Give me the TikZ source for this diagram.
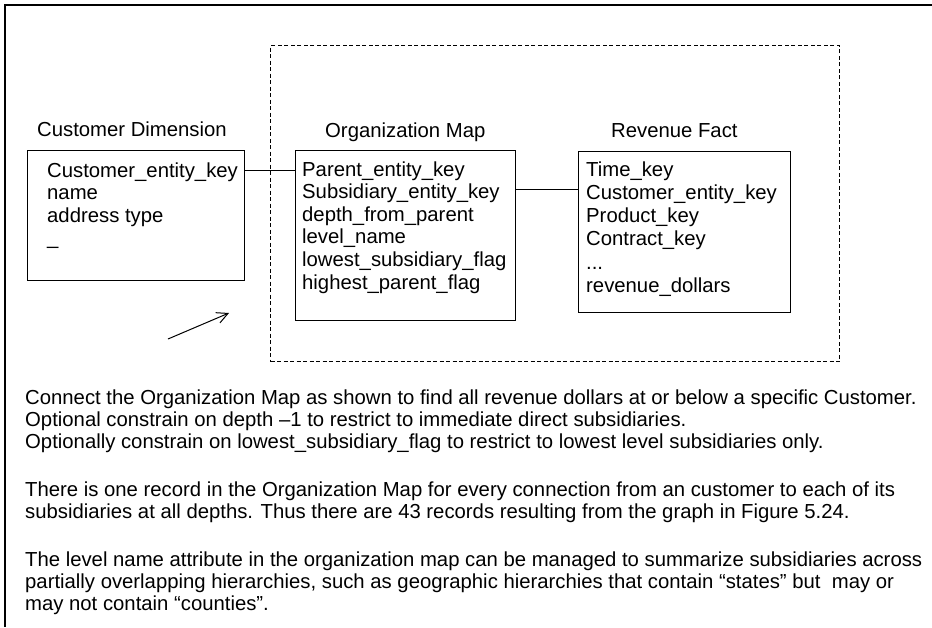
\documentclass[tikz,border=0pt]{standalone}
\usepackage{fontspec}
\setmainfont{Liberation Sans}
\usetikzlibrary{arrows.meta}
\newcommand{\rowsblock}[2]{\parbox[t]{#1}{\raggedright\fontsize{20.3pt}{22.6pt}\selectfont #2}}
\begin{document}
\begin{tikzpicture}[x=1pt,y=-1pt,
  tbl/.style={draw, line width=1.1pt, inner sep=0pt, anchor=north west},
  lbl/.style={inner sep=0pt, anchor=base west, font=\fontsize{20.3pt}{22.6pt}\selectfont},
  link/.style={line width=1pt},
  dashframe/.style={draw, line width=1pt, dash pattern=on 4pt off 2.5pt}]
\useasboundingbox (0,0) rectangle (932,627);
% outer frame
\draw[line width=1.5pt] (932,5) -- (5,5) -- (5,627);
% dashed grouping box
\node[dashframe, inner sep=0pt, anchor=north west, minimum width=569pt, minimum height=316pt] (group) at (270,45) {};
% tables
\node[tbl, minimum width=217pt, minimum height=130pt] (cust) at (27,150) {};
\node[tbl, minimum width=220pt, minimum height=170pt] (org) at (295,150) {};
\node[tbl, minimum width=212pt, minimum height=161pt] (rev) at (578,151) {};
% titles
\node[lbl] (custtitle) at (37,136) {Customer Dimension};
\node[lbl] (orgtitle) at (325,137) {Organization Map};
\node[lbl] (revtitle) at (611,137) {Revenue Fact};
% table contents
\node[lbl] (custrows) at (47,177) {\rowsblock{190pt}{Customer\_entity\_key\\name\\address type\\\_}};
\node[lbl] (orgrows) at (302,176) {\rowsblock{210pt}{Parent\_entity\_key\\Subsidiary\_entity\_key\\depth\_from\_parent\\level\_name\\lowest\_subsidiary\_flag\\highest\_parent\_flag}};
\node[lbl] (revrows) at (586,176) {\parbox[t]{200pt}{\raggedright\fontsize{20.3pt}{23.3pt}\selectfont Time\_key\\Customer\_entity\_key\\Product\_key\\Contract\_key\\...\\revenue\_dollars}};
% connectors
\draw[link] ([yshift=-20pt]cust.north east) -- ([yshift=-20pt]org.north west);
\draw[link] ([yshift=-39pt]org.north east) -- ([yshift=-38pt]rev.north west);
% arrow
\coordinate (arrA) at (168,339);
\coordinate (arrB) at (229,313);
\draw[link, -{Straight Barb[length=11pt,width=11pt]}] (arrA) -- (arrB);
% explanatory text
\node[lbl] (para1) at (25,404) {\parbox[t]{900pt}{\raggedright\fontsize{20.3pt}{22pt}\selectfont Connect the Organization Map as shown to find all revenue dollars at or below a specific Customer.\\Optional constrain on depth –1 to restrict to immediate direct subsidiaries.\\Optionally constrain on lowest\_subsidiary\_flag to restrict to lowest level subsidiaries only.}};
\node[lbl] (para2) at (25,496) {\parbox[t]{900pt}{\raggedright\fontsize{20.3pt}{22pt}\selectfont There is one record in the Organization Map for every connection from an customer to each of its\\subsidiaries at all depths. Thus there are 43 records resulting from the graph in Figure 5.24.}};
\node[lbl] (para3) at (25,566) {\parbox[t]{906pt}{\raggedright\fontsize{20.3pt}{22pt}\selectfont The level name attribute in the organization map can be managed to summarize subsidiaries across\\partially overlapping hierarchies, such as geographic hierarchies that contain “states” but\ \ may or\\may not contain “counties”.}};
\end{tikzpicture}
\end{document}
